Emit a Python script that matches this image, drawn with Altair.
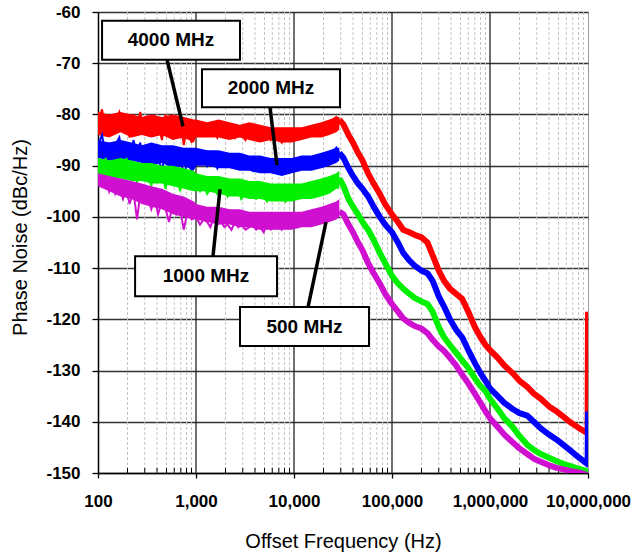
import altair as alt
import pandas as pd

# ---------------- data ----------------
FREQ_D1 = [100, 110, 120, 130, 140, 150, 165, 180, 195, 210,
           230, 250, 270, 290, 320, 350, 380, 410, 450, 490,
           530, 580, 630, 690, 750, 820, 900]
FREQ_D2 = [1000, 1100, 1200, 1300, 1400, 1500, 1650, 1800, 1950, 2100,
           2300, 2500, 2700, 2900, 3200, 3500, 3800, 4100, 4500, 4900,
           5300, 5800, 6300, 6900, 7500, 8200, 9000]
FREQ_D3 = [10000, 11000, 12000, 13000, 14000, 15000, 16500, 18000, 19500, 21000,
           23000, 25000, 27000, 29000]
FREQ_SLOPE = [32000, 36000, 40000, 45000, 50000, 57000, 65000, 75000, 85000, 100000,
              115000, 130000, 150000, 170000, 200000, 230000, 260000, 300000, 340000, 390000,
              450000, 520000, 600000, 700000, 800000, 900000, 1000000, 1200000, 1400000, 1700000,
              2000000, 2400000, 2800000, 3300000, 4000000, 4800000, 5600000, 6500000, 7500000, 8500000,
              9500000, 9900000, 10000000]

# noise band envelope (upper / lower edge) in the flat region
BAND_F = [100, 130, 170, 220, 280, 350, 450, 580, 750, 950,
          1000, 1300, 1700, 2200, 2800, 3500, 4500, 5800, 7500, 9500,
          12000, 15000, 19000, 23000, 27000, 29000]
RED_HI = [-79.5, -80, -79.5, -80, -80.5, -80, -80.5, -80, -80.5, -81,
          -81, -81.5, -81, -81.5, -82, -81.5, -82, -82.5, -82.5, -82.5,
          -82.5, -82, -81.5, -81, -80.5, -80.5]
RED_LO = [-84, -84.5, -83.5, -84.5, -84, -84.5, -84, -85, -84.5, -85.5,
          -84.5, -84.5, -84.5, -85, -84.5, -85, -85.5, -85, -85.5, -85.5,
          -85, -84.5, -84.5, -84, -83.5, -83]
BLUE_HI = [-85, -85.5, -85, -85.5, -86, -85.5, -86, -86, -86.5, -86.5,
           -86.5, -87, -87, -87.5, -87.5, -88, -88, -88.5, -88.5, -88.5,
           -88, -88, -87.5, -87, -86.5, -86.5]
BLUE_LO = [-88.5, -89, -89.5, -89, -89.5, -90, -89.5, -90.5, -90, -91,
           -90, -90, -90.5, -90.5, -91, -91, -91.5, -91.5, -92, -91.5,
           -91, -91, -90.5, -90, -89.5, -89]
GREEN_HI = [-88.5, -89, -88.5, -89, -89.5, -89.5, -90, -90, -90.5, -91,
            -91.5, -92, -92, -92.5, -92.5, -93, -93, -93.5, -93.5, -93.5,
            -93.5, -93, -92.5, -92, -91.5, -91]
GREEN_LO = [-92, -92.5, -92.5, -93, -93, -93.5, -93.5, -94, -94.5, -95,
            -95, -95, -95.5, -96, -96, -96.5, -96.5, -97, -97, -97,
            -96.5, -96.5, -96, -95.5, -94.5, -94.5]
MAG_HI = [-91.5, -92, -92.5, -93, -93.5, -94, -94.5, -95.5, -96, -97,
          -97.5, -98, -98, -98.5, -98.5, -99, -99, -99, -99, -99,
          -99, -98.5, -98, -97.5, -97, -96.5]
MAG_LO = [-94, -95, -96, -96.5, -97.5, -98, -98.5, -99.5, -100, -100.5,
          -100.5, -101, -101.5, -101.5, -102, -102, -102.5, -102.5, -102.5, -102.5,
          -102, -102, -101.5, -101, -100.5, -100]

RED_D1 = [-81.5, -79.0, -83.5, -80.5, -84.0, -81.0, -79.5, -83.0, -81.5, -84.5,
          -80.0, -82.5, -79.5, -83.5, -81.0, -84.0, -80.5, -82.0, -85.0, -80.0,
          -83.5, -81.5, -84.5, -80.5, -86.0, -82.0, -85.5]
RED_D2 = [-82.5, -83.5, -82.0, -84.0, -82.5, -83.0, -84.5, -82.0, -83.5, -84.0,
          -82.5, -84.5, -83.0, -84.0, -85.0, -83.0, -84.5, -83.5, -85.0, -84.0,
          -83.5, -85.0, -84.0, -84.5, -85.5, -83.5, -84.5]
RED_D3 = [-84.0, -83.5, -84.5, -83.0, -83.5, -82.5, -83.0, -82.0, -82.5, -81.5,
          -82.0, -81.0, -80.5, -81.0]
RED_SLOPE = [-82, -84, -85.5, -87.5, -89, -91.5, -93.5, -95.5, -97.5, -99.5,
             -101, -102.5, -103, -103.5, -104, -105, -107.5, -110.5, -112.5, -114,
             -115, -116, -118.5, -121.5, -123.5, -125, -126, -127.5, -129, -130.5,
             -132, -133.2, -134.5, -135.5, -137, -138, -139, -140, -140.8, -141.5,
             -142, -142.3, -118.5]

BLUE_D1 = [-86.0, -84.0, -88.5, -85.5, -89.0, -86.0, -84.5, -88.0, -86.5, -90.5,
           -85.0, -88.0, -85.5, -89.5, -86.5, -90.0, -87.0, -88.5, -91.0, -86.5,
           -89.5, -87.5, -91.5, -87.0, -92.5, -88.5, -91.0]
BLUE_D2 = [-88.5, -89.5, -88.0, -90.0, -88.5, -89.0, -90.5, -88.5, -89.5, -90.0,
           -88.5, -90.0, -89.0, -90.5, -89.5, -90.0, -91.0, -89.5, -90.5, -90.0,
           -89.5, -91.0, -90.0, -90.5, -91.5, -89.5, -90.5]
BLUE_D3 = [-90.0, -89.5, -90.0, -89.0, -89.5, -88.5, -89.0, -88.0, -88.5, -88.0,
           -88.5, -87.5, -86.5, -87.5]
BLUE_SLOPE = [-88.5, -90.5, -92, -93.5, -94.5, -96, -98, -100, -101.5, -103,
              -105, -107, -108.5, -109.5, -110.5, -111, -112.5, -115.5, -117.5, -120,
              -122, -123.5, -126, -128.5, -130.5, -132, -133.5, -135, -136.3, -137.5,
              -138.3, -138.8, -140, -141.3, -142.5, -143.5, -144.5, -145.5, -146.5, -147.3,
              -148, -148.3, -138]

GREEN_D1 = [-89.5, -92.5, -88.5, -91.5, -90.0, -93.0, -89.0, -91.5, -88.5, -92.0,
            -90.5, -93.5, -89.5, -92.0, -91.0, -94.0, -90.0, -92.5, -91.5, -94.5,
            -90.5, -93.0, -92.0, -95.0, -91.5, -94.0, -93.0]
GREEN_D2 = [-93.5, -95.0, -94.0, -95.5, -94.5, -93.5, -95.5, -94.5, -95.0, -96.0,
            -94.5, -95.5, -95.0, -96.5, -95.0, -96.0, -95.5, -96.5, -95.5, -96.0,
            -97.0, -95.5, -96.5, -95.5, -96.0, -97.0, -95.5]
GREEN_D3 = [-95.5, -96.0, -95.0, -95.5, -94.5, -95.0, -94.0, -94.5, -93.5, -94.0,
            -93.0, -93.5, -92.0, -92.5]
GREEN_SLOPE = [-94, -96.5, -98, -99.5, -101, -102.5, -104.5, -107, -109, -111.5,
               -113, -114, -115, -115.8, -116.5, -117, -118.5, -121.5, -123.5, -125,
               -126.5, -128, -129.5, -131.5, -133, -134, -135.5, -137.5, -139.3, -141,
               -142.8, -144.5, -145.5, -146.3, -147, -147.7, -148.2, -148.6, -149, -149.3,
               -149.6, -149.8, -150]

MAG_D1 = [-92.0, -94.0, -92.5, -95.0, -93.0, -95.5, -94.0, -96.5, -94.5, -97.5,
          -95.0, -100.5, -95.5, -97.0, -96.0, -98.5, -96.5, -99.5, -97.0, -98.5,
          -101.0, -97.5, -99.5, -98.5, -102.5, -99.0, -100.5]
MAG_D2 = [-100.0, -101.5, -100.5, -101.0, -102.0, -100.5, -101.5, -101.0, -102.0, -101.5,
          -102.5, -101.0, -102.0, -101.5, -102.5, -102.0, -101.5, -102.5, -102.0, -103.0,
          -101.5, -102.5, -102.0, -101.5, -102.5, -101.5, -102.0]
MAG_D3 = [-101.5, -102.0, -101.0, -101.5, -100.5, -101.0, -100.5, -100.0, -100.5, -99.5,
          -100.0, -99.0, -98.5, -99.0]
MAG_SLOPE = [-99.5, -101.5, -103, -105, -106.5, -109, -111, -113, -115, -117,
             -118.5, -119.8, -120.7, -121.3, -121.8, -122.7, -124, -125.3, -126.2, -127.5,
             -129, -130.8, -132.5, -134.5, -136.3, -138, -139.3, -141, -142.5, -144,
             -145.2, -146.3, -147.2, -147.8, -148.5, -149, -149.3, -149.6, -149.8, -150,
             -150.3, -150.5, -150.5]

LABELS = ["4000 MHz", "2000 MHz", "1000 MHz", "500 MHz"]
X_TICKS = [100, 1000, 10000, 100000, 1000000, 10000000]
Y_TICKS = [-150, -140, -130, -120, -110, -100, -90, -80, -70, -60]

# annotation geometry (data units)
BOX_X1 = [110, 1151, 239, 2812]
BOX_X2 = [2812, 29460, 6710, 58240]
BOX_Y1 = [-61.7, -71.2, -107.7, -117.6]
BOX_Y2 = [-69.3, -78.6, -115.5, -125.2]
TXT_X = [556, 5821, 1265, 12800]
TXT_Y = [-65.5, -74.9, -111.6, -121.4]
PTR_X1 = [506, 5690, 1490, 13900]
PTR_Y1 = [-69.3, -78.6, -107.7, -117.6]
PTR_X2 = [737, 6711, 1757, 21220]
PTR_Y2 = [-82.3, -89.9, -94.6, -101.0]

# ---------------- build ----------------
FREQ_FLAT = FREQ_D1 + FREQ_D2 + FREQ_D3
series = [
    (RED_D1 + RED_D2 + RED_D3, RED_SLOPE, RED_HI, RED_LO, "#ff0000"),
    (BLUE_D1 + BLUE_D2 + BLUE_D3, BLUE_SLOPE, BLUE_HI, BLUE_LO, "#0000ff"),
    (GREEN_D1 + GREEN_D2 + GREEN_D3, GREEN_SLOPE, GREEN_HI, GREEN_LO, "#00f000"),
    (MAG_D1 + MAG_D2 + MAG_D3, MAG_SLOPE, MAG_HI, MAG_LO, "#d010d0"),
]

FONT = "Liberation Sans"
xs = alt.Scale(type="log", domain=[100, 10000000], nice=False)
ys = alt.Scale(domain=[-150, -60], nice=False)

x_axis = alt.Axis(values=X_TICKS, format=",d", grid=False,
                  domainColor="#000", domainWidth=1.5, tickColor="#000", tickSize=5, tickWidth=1.3,
                  labelFont=FONT, labelFontWeight="bold", labelFontSize=17, labelColor="#000",
                  labelPadding=15, labelFlush=False, labelOverlap=False,
                  title="Offset Frequency (Hz)", titleFont=FONT, titleFontSize=20,
                  titleFontWeight="normal", titleColor="#000", titleBaseline="alphabetic", titleY=74)
y_axis = alt.Axis(values=Y_TICKS, labelExpr="'' + datum.value", grid=True, gridColor="#333", gridWidth=1.3,
                  domainColor="#000", domainWidth=1.5, tickColor="#000", tickSize=6, tickWidth=1.3,
                  labelFont=FONT, labelFontWeight="bold", labelFontSize=17, labelColor="#000",
                  labelPadding=12, labelOverlap=False,
                  title="Phase Noise (dBc/Hz)", titleFont=FONT, titleFontSize=20,
                  titleFontWeight="normal", titleColor="#000", titleBaseline="alphabetic",
                  titleX=-72, titleY=225)


def X(field):
    return alt.X(field, type="quantitative", scale=xs, axis=x_axis)


def Y(field):
    return alt.Y(field, type="quantitative", scale=ys, axis=y_axis)


minor = [m * 10 ** e for e in range(2, 7) for m in range(2, 10)]
minor_df = pd.DataFrame({"f": minor, "y0": [-150] * len(minor), "y1": [-149] * len(minor)})
major_df = pd.DataFrame({"f": X_TICKS[1:-1]})

minor_grid = alt.Chart(minor_df).mark_rule(color="#c4c4c4", strokeDash=[3, 2], strokeWidth=1).encode(x=X("f"))
major_grid = alt.Chart(major_df).mark_rule(color="#222", strokeWidth=1.3).encode(x=X("f"))
minor_ticks = alt.Chart(minor_df).mark_rule(color="#000", strokeWidth=1).encode(x=X("f"), y=Y("y0"), y2="y1")

layers = [minor_grid, major_grid, minor_ticks]
for flat, slope, hi, lo, col in series:
    band_df = pd.DataFrame({"f": BAND_F, "hi": hi, "lo": lo})
    flat_df = pd.DataFrame({"f": FREQ_FLAT, "v": flat})
    slope_df = pd.DataFrame({"f": FREQ_D3[-1:] + FREQ_SLOPE, "v": flat[-1:] + slope})
    layers.append(alt.Chart(band_df).mark_area(color=col, opacity=1).encode(
        x=X("f"), y=Y("hi"), y2="lo"))
    layers.append(alt.Chart(flat_df).mark_line(color=col, strokeWidth=2, clip=True).encode(
        x=X("f"), y=Y("v")))
    layers.append(alt.Chart(slope_df).mark_line(color=col, strokeWidth=6, clip=True, strokeJoin="round").encode(
        x=X("f"), y=Y("v")))

ann = pd.DataFrame({"label": LABELS, "bx1": BOX_X1, "bx2": BOX_X2, "by1": BOX_Y1, "by2": BOX_Y2,
                    "tx": TXT_X, "ty": TXT_Y, "px1": PTR_X1, "py1": PTR_Y1, "px2": PTR_X2, "py2": PTR_Y2})
pointers = alt.Chart(ann).mark_rule(color="#000", strokeWidth=3.5).encode(
    x=X("px1"), x2="px2", y=Y("py1"), y2="py2")
boxes = alt.Chart(ann).mark_rect(fill="white", stroke="#000", strokeWidth=2).encode(
    x=X("bx1"), x2="bx2", y=Y("by1"), y2="by2")
texts = alt.Chart(ann).mark_text(font=FONT, fontWeight="bold", fontSize=19, color="#000",
                                 align="center", baseline="middle").encode(
    x=X("tx"), y=Y("ty"), text="label:N")
layers += [pointers, boxes, texts]

chart = alt.layer(*layers).properties(
    width=490, height=461,
    autosize="none",
    padding={"left": 98, "top": 12, "right": 46, "bottom": 81},
    background="white",
).configure_view(stroke="#999", strokeWidth=1)

chart.save("out.html", embed_options={"renderer": "svg", "actions": False})
